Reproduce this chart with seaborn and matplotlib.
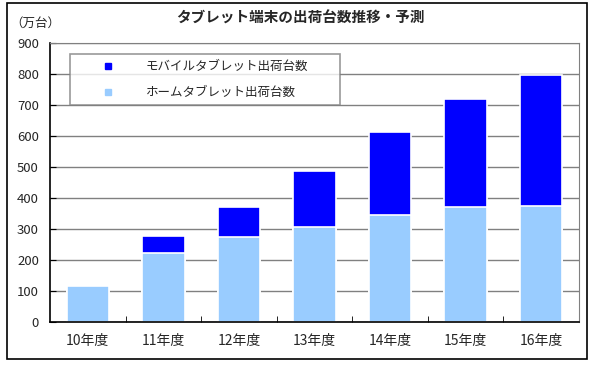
import pandas as pd
import matplotlib
matplotlib.use("Agg")
import matplotlib.pyplot as plt
import seaborn as sns
from matplotlib.lines import Line2D
from matplotlib.patches import Rectangle

years = ["10年度", "11年度", "12年度", "13年度", "14年度", "15年度", "16年度"]
home = [115, 224, 274, 306, 344, 371, 373]
mobile = [0, 54, 97, 180, 269, 349, 425]

df = pd.DataFrame({"year": years, "home": home, "mobile": mobile})
df["total"] = df["home"] + df["mobile"]

sns.set_style("white")
plt.rcParams["font.family"] = ["Noto Sans CJK JP", "DejaVu Sans"]

c_mobile = "#0000FF"
c_home = "#99CCFF"

fig = plt.figure(figsize=(5.97, 3.65), dpi=100)
ax = fig.add_axes([50 / 597, 43 / 365, 529 / 597, 279 / 365])

# total first (dark blue), then the home part over it
sns.barplot(data=df, x="year", y="total", color=c_mobile, width=0.56,
            edgecolor="white", linewidth=1.2, saturation=1, ax=ax)
sns.barplot(data=df, x="year", y="home", color=c_home, width=0.56,
            edgecolor="white", linewidth=1.2, saturation=1, ax=ax)

ax.set_xlim(-0.5, 6.5)
ax.set_ylim(0, 900)
ax.set_yticks(range(0, 901, 100))
ax.set_axisbelow(True)
ax.yaxis.grid(True, color="#808080", lw=1)
ax.set_xlabel("")
ax.set_ylabel("")

for s in ["top", "right"]:
    ax.spines[s].set_color("#808080")
for s in ["left", "bottom"]:
    ax.spines[s].set_color("black")
    ax.spines[s].set_linewidth(1.2)

ax.tick_params(axis="y", direction="in", length=4, left=True, labelsize=9.5, pad=8, color="black")
ax.tick_params(axis="x", which="major", length=0, labelsize=10, pad=9)
ax.set_xticks([i + 0.5 for i in range(6)], minor=True)
ax.tick_params(axis="x", which="minor", direction="in", length=4, bottom=True, color="black")

handles = [Line2D([], [], marker="s", color=c_mobile, ls="none", markersize=4.5),
           Line2D([], [], marker="s", color=c_home, ls="none", markersize=4.5)]
leg = ax.legend(handles, ["モバイルタブレット出荷台数", "ホームタブレット出荷台数"],
                loc="upper left", bbox_to_anchor=(0.038, 0.785, 0.51, 0.175),
                mode="expand", borderaxespad=0, borderpad=0.5, handlelength=5,
                handletextpad=0.55, labelspacing=1.0, fontsize=9,
                frameon=True, fancybox=False, edgecolor="#808080")
leg.get_frame().set_linewidth(1.2)

fig.text(300 / 597, 1 - 18 / 365, "タブレット端末の出荷台数推移・予測",
         ha="center", va="center", fontsize=10.5, fontweight="bold")
fig.text(10 / 597, 1 - 23 / 365, "（万台）", ha="left", va="center", fontsize=9)

fig.patches.append(Rectangle((7 / 597, 1 - 359 / 365), 580 / 597, 356 / 365,
                             transform=fig.transFigure, fill=False,
                             edgecolor="black", lw=1.2))

fig.savefig("out.png", dpi=100)
